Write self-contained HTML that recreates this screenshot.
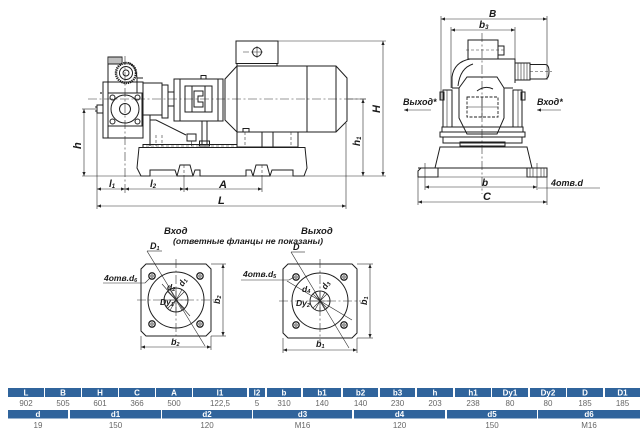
<!DOCTYPE html>
<html><head><meta charset="utf-8"><style>
html,body{margin:0;padding:0;background:#fff;width:640px;height:434px;overflow:hidden}
svg{display:block}
.o{fill:none;stroke:#1e1e1e;stroke-width:1}
.t{fill:none;stroke:#2a2a2a;stroke-width:0.6}
.c{fill:none;stroke:#333;stroke-width:0.6;stroke-dasharray:9 2.5 2 2.5}
.d{fill:none;stroke:#333;stroke-width:0.6;stroke-dasharray:3 2}
.lb{font-family:"Liberation Sans",sans-serif;font-style:italic;font-weight:bold;fill:#1a1a1a}
.th{font-family:"Liberation Sans",sans-serif;font-weight:bold;font-size:8px;fill:#fff;text-anchor:middle}
.tv{font-family:"Liberation Sans",sans-serif;font-size:8px;fill:#666;text-anchor:middle}
</style></head><body>
<svg width="640" height="434" viewBox="0 0 640 434" xmlns="http://www.w3.org/2000/svg">
<defs>
<marker id="a" viewBox="0 0 10 10" refX="10" refY="5" markerWidth="6" markerHeight="4" orient="auto-start-reverse" markerUnits="userSpaceOnUse"><path d="M0,1 L10,5 L0,9 z" fill="#222"/></marker>
</defs>

<!-- ================= MAIN VIEW ================= -->
<line class="c" x1="88" y1="99" x2="366" y2="99"/>
<line class="c" x1="125" y1="56" x2="125" y2="194"/>

<!-- pump top gear box -->
<rect class="o" x="108" y="57" width="14" height="7"/>
<path class="t" d="M110,57V64M112,57V64M114,57V64M116,57V64M118,57V64M120,57V64"/>
<circle cx="126" cy="73" r="10" fill="none" stroke="#1e1e1e" stroke-width="2.4" stroke-dasharray="1.3 0.8"/>
<circle class="o" cx="126" cy="73" r="6.5"/>
<circle class="o" cx="126" cy="73" r="3"/>
<path class="o" d="M108,64V82M137,93V78Q136,65 128,62.5M137,78H143"/>
<!-- pump body -->
<rect class="o" x="103" y="82" width="40" height="56"/>
<line class="o" x1="108" y1="82" x2="108" y2="138"/>
<rect class="o" x="108" y="93" width="34" height="33"/>
<circle class="o" cx="112.5" cy="97.5" r="2.5"/><circle class="o" cx="137.5" cy="97.5" r="2.5"/>
<circle class="o" cx="112.5" cy="121.5" r="2.5"/><circle class="o" cx="137.5" cy="121.5" r="2.5"/>
<circle class="o" cx="125" cy="109" r="14"/>
<circle class="o" cx="125" cy="109" r="5.5"/>
<rect class="o" x="97" y="105" width="6" height="8"/>
<line class="o" x1="95" y1="107" x2="97" y2="107"/><line class="o" x1="95" y1="111" x2="97" y2="111"/>
<circle cx="101" cy="93" r="0.9" fill="#222"/>
<!-- bearing housing -->
<rect class="o" x="143" y="83" width="19" height="32"/>
<rect class="o" x="162" y="85" width="6" height="33"/>
<rect class="o" x="168" y="92" width="6" height="14"/>
<path class="o" d="M150,115V146M150,120H156L186,135"/>
<line class="d" x1="156" y1="135" x2="156" y2="146"/>
<line class="d" x1="162" y1="135" x2="162" y2="146"/>
<rect class="o" x="187" y="134" width="9" height="7"/>
<line class="t" x1="191.5" y1="141" x2="191.5" y2="146"/>
<!-- coupling housing -->
<rect class="o" x="174" y="79" width="49" height="42"/>
<line class="o" x1="180" y1="79" x2="180" y2="121"/>
<line class="o" x1="218" y1="79" x2="218" y2="121"/>
<rect class="o" x="185" y="86" width="27" height="26"/>
<line class="o" x1="192" y1="86" x2="192" y2="112"/>
<line class="o" x1="205" y1="86" x2="205" y2="112"/>
<path class="o" d="M194,91H203V96H198V102H203V107H194Z"/>
<rect class="o" x="201" y="75.5" width="5" height="3.5"/>
<line class="o" x1="202" y1="121" x2="202" y2="145"/>
<line class="o" x1="207" y1="121" x2="207" y2="145"/>
<rect class="o" x="199.5" y="141" width="10" height="5" fill="#555"/>
<!-- motor -->
<path class="o" d="M237,66L225,79V120L237,132"/>
<rect class="o" x="237" y="66" width="70" height="66"/>
<path class="o" d="M307,66H336L347,78V121L336,132H307"/>
<line class="o" x1="336" y1="66" x2="336" y2="132"/>
<rect class="o" x="236" y="41" width="42" height="22.5"/>
<line class="o" x1="237" y1="63.5" x2="237" y2="66"/><line class="o" x1="277" y1="63.5" x2="277" y2="66"/>
<circle class="o" cx="257" cy="52" r="4.5"/>
<path class="t" d="M251,52H263M257,46V58M243,52H249"/>
<rect class="o" x="243" y="128.5" width="6" height="3.5"/>
<!-- motor pedestal -->
<rect class="o" x="237" y="132" width="61" height="15"/>
<line class="o" x1="262" y1="132" x2="262" y2="147"/>
<line class="o" x1="273" y1="132" x2="273" y2="147"/>
<line class="d" x1="245" y1="132" x2="245" y2="147"/>
<line class="d" x1="291" y1="132" x2="291" y2="147"/>
<!-- plate -->
<rect class="o" x="143" y="144.5" width="94" height="3"/>
<line class="d" x1="146" y1="146" x2="236" y2="146"/>
<!-- base -->
<path class="o" d="M139,147.5H305L307,168L304,176H293V170H272L270,176H253L251,170H246V176H200V170H195L193,176H177L175,170H150V176H141L137,168Z"/>
<path class="o" d="M177,176L180,165H190L193,176M253,176L256,165H267L270,176"/>
<line class="d" x1="184" y1="165" x2="184" y2="176"/>
<line class="d" x1="262" y1="165" x2="262" y2="176"/>

<!-- dimensions main -->
<line class="t" x1="82" y1="176" x2="386" y2="176"/>
<line class="t" x1="82" y1="109" x2="96" y2="109"/>
<line class="t" x1="84" y1="109" x2="84" y2="176" marker-start="url(#a)" marker-end="url(#a)"/>
<line class="t" x1="348" y1="99" x2="366" y2="99"/>
<line class="t" x1="363" y1="99" x2="363" y2="176" marker-start="url(#a)" marker-end="url(#a)"/>
<line class="t" x1="278" y1="41" x2="386" y2="41"/>
<line class="t" x1="383" y1="41" x2="383" y2="176" marker-start="url(#a)" marker-end="url(#a)"/>
<line class="t" x1="97" y1="113" x2="97" y2="209"/>
<line class="t" x1="346" y1="123" x2="346" y2="209"/>
<line class="t" x1="184" y1="176" x2="184" y2="192"/>
<line class="t" x1="262" y1="176" x2="262" y2="192"/>
<line class="t" x1="97" y1="189" x2="125" y2="189" marker-start="url(#a)" marker-end="url(#a)"/>
<line class="t" x1="125" y1="189" x2="184" y2="189" marker-start="url(#a)" marker-end="url(#a)"/>
<line class="t" x1="184" y1="189" x2="262" y2="189" marker-start="url(#a)" marker-end="url(#a)"/>
<line class="t" x1="97" y1="206" x2="346" y2="206" marker-start="url(#a)" marker-end="url(#a)"/>
<text class="lb" x="109" y="187" font-size="10">l<tspan font-size="6" dy="1">1</tspan></text>
<text class="lb" x="150" y="187" font-size="10">l<tspan font-size="6" dy="1">2</tspan></text>
<text class="lb" x="219" y="188" font-size="11">A</text>
<text class="lb" x="218" y="204" font-size="11">L</text>
<text class="lb" font-size="11" transform="translate(81,149) rotate(-90)">h</text>
<text class="lb" font-size="10" transform="translate(360,146) rotate(-90)">h<tspan font-size="6" dy="1">1</tspan></text>
<text class="lb" font-size="11" transform="translate(380,113) rotate(-90)">H</text>

<!-- ================= SIDE VIEW ================= -->
<line class="c" x1="482" y1="33" x2="482" y2="194"/>
<line class="t" x1="441" y1="16" x2="441" y2="100"/>
<line class="t" x1="547" y1="16" x2="547" y2="80"/>
<line class="t" x1="441" y1="19" x2="547" y2="19" marker-start="url(#a)" marker-end="url(#a)"/>
<line class="t" x1="451" y1="27" x2="451" y2="88"/>
<line class="t" x1="515" y1="27" x2="515" y2="62"/>
<line class="t" x1="451" y1="30" x2="515" y2="30" marker-start="url(#a)" marker-end="url(#a)"/>
<text class="lb" x="489" y="17" font-size="10">B</text>
<text class="lb" x="479" y="28" font-size="10">b<tspan font-size="6" dy="1">3</tspan></text>

<rect class="o" x="468" y="40" width="30" height="19"/>
<rect class="o" x="498" y="46" width="6" height="9"/>
<line class="d" x1="466" y1="50" x2="506" y2="50"/>
<path class="o" d="M452,88V77Q454,62 470,59H515V83"/>
<path class="o" d="M458,86Q460,68 473,64"/>
<rect class="o" x="515" y="63" width="15" height="17"/>
<path class="t" d="M518,63V80M521,63V80M524,63V80M527,63V80"/>
<path class="o" d="M530,64.5H545Q549,64.5 549,71.5Q549,79 545,79H530"/>
<line class="d" x1="530" y1="71.5" x2="552" y2="71.5"/>
<path class="o" d="M467,77H497L504,88V118L497,134H467L459,118V88Z"/>
<rect x="467" y="97" width="31" height="20" fill="none" stroke="#222" stroke-width="0.9" stroke-dasharray="3 1.5"/>
<path class="t" d="M482,97V117M467,107H498"/>
<path class="o" d="M477,91Q485,85 493,89"/>
<rect class="o" x="443" y="90" width="9" height="37"/>
<rect class="o" x="513" y="90" width="9" height="37"/>
<line class="t" x1="447" y1="90" x2="447" y2="127"/>
<line class="t" x1="518" y1="90" x2="518" y2="127"/>
<rect class="o" x="440" y="92" width="4" height="8"/>
<rect class="o" x="521" y="92" width="4" height="8"/>
<path class="o" d="M452,88H459M504,88H513"/>
<rect class="o" x="442" y="127" width="81" height="5"/>
<rect class="o" x="440" y="132" width="85" height="5"/>
<rect class="o" x="443" y="137" width="79" height="6"/>
<rect class="o" x="460" y="142" width="45" height="4"/>
<path class="o" d="M440,147H527L532,168H435Z"/>
<line class="o" x1="418" y1="168" x2="547" y2="168"/>
<path class="o" d="M418,177V171L421,168H438V177Z"/>
<path class="o" d="M527,168H547V177H527Z"/>
<path class="t" d="M530,168V177M533,168V177M541,168V177M544,168V177"/>
<line class="t" x1="418" y1="177" x2="547" y2="177"/>
<line class="t" x1="425" y1="163" x2="425" y2="190"/>
<line class="t" x1="537" y1="163" x2="537" y2="190"/>
<line class="t" x1="425" y1="187" x2="537" y2="187" marker-start="url(#a)" marker-end="url(#a)"/>
<line class="t" x1="418" y1="177" x2="418" y2="205"/>
<line class="t" x1="547" y1="177" x2="547" y2="205"/>
<line class="t" x1="418" y1="202" x2="547" y2="202" marker-start="url(#a)" marker-end="url(#a)"/>
<text class="lb" x="482" y="186" font-size="10">b</text>
<text class="lb" x="483" y="200" font-size="11">C</text>
<line class="t" x1="538" y1="188" x2="600" y2="188"/>
<text class="lb" x="551" y="186" font-size="9">4отв.d</text>
<text class="lb" x="403" y="105" font-size="9">Выход*</text>
<line class="t" x1="431" y1="110" x2="404" y2="110" marker-end="url(#a)"/>
<text class="lb" x="537" y="105" font-size="9">Вход*</text>
<line class="t" x1="561" y1="110" x2="537" y2="110" marker-end="url(#a)"/>

<!-- ================= FLANGES ================= -->
<text class="lb" x="164" y="234" font-size="9.5">Вход</text>
<text class="lb" x="301" y="234" font-size="9.5">Выход</text>
<text class="lb" x="173" y="244" font-size="8.5" textLength="150" lengthAdjust="spacingAndGlyphs">(ответные фланцы не показаны)</text>

<!-- flange 1 -->
<path class="o" d="M146,264H206L211,269V331L206,336H146L141,331V269Z"/>
<circle class="o" cx="176" cy="300" r="28"/>
<circle class="o" cx="176" cy="300" r="12"/>
<path class="t" d="M164,300H188M176,288V312M167.5,291.5L184.5,308.5M184.5,291.5L167.5,308.5M170,289.6L182,310.4M182,289.6L170,310.4"/>
<line class="c" x1="137" y1="300" x2="215" y2="300"/>
<line class="c" x1="176" y1="259" x2="176" y2="340"/>
<circle cx="152" cy="276" r="3.2" fill="none" stroke="#222" stroke-width="1.3"/><circle cx="152" cy="276" r="1.2" fill="none" stroke="#222" stroke-width="0.7"/>
<circle cx="200" cy="276" r="3.2" fill="none" stroke="#222" stroke-width="1.3"/><circle cx="200" cy="276" r="1.2" fill="none" stroke="#222" stroke-width="0.7"/>
<circle cx="152" cy="324" r="3.2" fill="none" stroke="#222" stroke-width="1.3"/><circle cx="152" cy="324" r="1.2" fill="none" stroke="#222" stroke-width="0.7"/>
<circle cx="200" cy="324" r="3.2" fill="none" stroke="#222" stroke-width="1.3"/><circle cx="200" cy="324" r="1.2" fill="none" stroke="#222" stroke-width="0.7"/>
<line class="t" x1="147" y1="251" x2="205" y2="346"/>
<line class="t" x1="162" y1="284" x2="190" y2="316"/>
<line class="t" x1="147" y1="251" x2="162" y2="251"/>
<line class="t" x1="103" y1="283" x2="145" y2="283"/>
<line class="t" x1="145" y1="283" x2="150" y2="278"/>
<text class="lb" x="150" y="249" font-size="9">D<tspan font-size="5.5" dy="1">1</tspan></text>
<text class="lb" x="104" y="281" font-size="8.5">4отв.d<tspan font-size="5.5" dy="1">6</tspan></text>
<text class="lb" x="167" y="290" font-size="8.5">d<tspan font-size="5.5" dy="1">2</tspan></text>
<text class="lb" font-size="8.5" transform="translate(183,287) rotate(-60)">d<tspan font-size="5.5" dy="1">1</tspan></text>
<text class="lb" x="160" y="305" font-size="8.5">Dy<tspan font-size="5.5" dy="1">1</tspan></text>
<line class="t" x1="211" y1="264" x2="226" y2="264"/>
<line class="t" x1="211" y1="336" x2="226" y2="336"/>
<line class="t" x1="223" y1="264" x2="223" y2="336" marker-start="url(#a)" marker-end="url(#a)"/>
<line class="t" x1="141" y1="336" x2="141" y2="350"/>
<line class="t" x1="211" y1="336" x2="211" y2="350"/>
<line class="t" x1="141" y1="347" x2="211" y2="347" marker-start="url(#a)" marker-end="url(#a)"/>
<text class="lb" x="171" y="345" font-size="9">b<tspan font-size="5.5" dy="1">2</tspan></text>
<text class="lb" font-size="9" transform="translate(220,304) rotate(-90)">b<tspan font-size="5.5" dy="1">2</tspan></text>

<!-- flange 2 -->
<path class="o" d="M288,264H352L357,269V333L352,338H288L283,333V269Z"/>
<circle class="o" cx="320" cy="301" r="28"/>
<circle class="o" cx="320" cy="301" r="10"/>
<path class="t" d="M310,301H330M320,291V311M313,294L327,308M327,294L313,308M315,292.3L325,309.7M325,292.3L315,309.7"/>
<line class="c" x1="279" y1="301" x2="361" y2="301"/>
<line class="c" x1="320" y1="259" x2="320" y2="342"/>
<circle cx="296" cy="277" r="3.2" fill="none" stroke="#222" stroke-width="1.3"/><circle cx="296" cy="277" r="1.2" fill="none" stroke="#222" stroke-width="0.7"/>
<circle cx="344" cy="277" r="3.2" fill="none" stroke="#222" stroke-width="1.3"/><circle cx="344" cy="277" r="1.2" fill="none" stroke="#222" stroke-width="0.7"/>
<circle cx="296" cy="325" r="3.2" fill="none" stroke="#222" stroke-width="1.3"/><circle cx="296" cy="325" r="1.2" fill="none" stroke="#222" stroke-width="0.7"/>
<circle cx="344" cy="325" r="3.2" fill="none" stroke="#222" stroke-width="1.3"/><circle cx="344" cy="325" r="1.2" fill="none" stroke="#222" stroke-width="0.7"/>
<line class="t" x1="291" y1="252" x2="349" y2="348"/>
<line class="t" x1="287" y1="281" x2="352" y2="320"/>
<line class="t" x1="291" y1="252" x2="305" y2="252"/>
<line class="t" x1="241" y1="280" x2="289" y2="280"/>
<line class="t" x1="289" y1="280" x2="294" y2="277"/>
<text class="lb" x="293" y="250" font-size="9">D</text>
<text class="lb" x="243" y="277" font-size="8.5">4отв.d<tspan font-size="5.5" dy="1">5</tspan></text>
<text class="lb" x="302" y="292" font-size="8.5">d<tspan font-size="5.5" dy="1">4</tspan></text>
<text class="lb" font-size="8.5" transform="translate(326,290) rotate(-60)">d<tspan font-size="5.5" dy="1">3</tspan></text>
<text class="lb" x="296" y="306" font-size="8.5">Dy<tspan font-size="5.5" dy="1">2</tspan></text>
<line class="t" x1="357" y1="264" x2="373" y2="264"/>
<line class="t" x1="357" y1="338" x2="373" y2="338"/>
<line class="t" x1="370" y1="264" x2="370" y2="338" marker-start="url(#a)" marker-end="url(#a)"/>
<line class="t" x1="283" y1="338" x2="283" y2="353"/>
<line class="t" x1="357" y1="338" x2="357" y2="353"/>
<line class="t" x1="283" y1="350" x2="357" y2="350" marker-start="url(#a)" marker-end="url(#a)"/>
<text class="lb" x="316" y="347" font-size="9">b<tspan font-size="5.5" dy="1">1</tspan></text>
<text class="lb" font-size="9" transform="translate(367,305) rotate(-90)">b<tspan font-size="5.5" dy="1">1</tspan></text>

<!-- ================= TABLE ================= -->
<g fill="#30649c">
<rect x="8" y="388" width="36" height="9"/>
<rect x="45" y="388" width="36" height="9"/>
<rect x="82" y="388" width="36" height="9"/>
<rect x="119" y="388" width="36" height="9"/>
<rect x="156" y="388" width="36" height="9"/>
<rect x="193" y="388" width="54" height="9"/>
<rect x="249" y="388" width="16" height="9"/>
<rect x="267" y="388" width="34" height="9"/>
<rect x="303" y="388" width="38" height="9"/>
<rect x="343" y="388" width="35" height="9"/>
<rect x="380" y="388" width="35" height="9"/>
<rect x="417" y="388" width="36" height="9"/>
<rect x="455" y="388" width="36" height="9"/>
<rect x="492" y="388" width="36" height="9"/>
<rect x="530" y="388" width="36" height="9"/>
<rect x="567" y="388" width="36" height="9"/>
<rect x="605" y="388" width="35" height="9"/>
<rect x="8" y="410" width="60" height="8.5"/>
<rect x="70" y="410" width="91" height="8.5"/>
<rect x="162" y="410" width="90" height="8.5"/>
<rect x="253" y="410" width="99" height="8.5"/>
<rect x="354" y="410" width="91" height="8.5"/>
<rect x="447" y="410" width="90" height="8.5"/>
<rect x="538" y="410" width="102" height="8.5"/>
</g>
<g class="th">
<text x="26" y="395.5">L</text>
<text x="63" y="395.5">B</text>
<text x="100" y="395.5">H</text>
<text x="137" y="395.5">C</text>
<text x="174" y="395.5">A</text>
<text x="220" y="395.5">l1</text>
<text x="257" y="395.5">l2</text>
<text x="284" y="395.5">b</text>
<text x="322" y="395.5">b1</text>
<text x="360.5" y="395.5">b2</text>
<text x="397.5" y="395.5">b3</text>
<text x="435" y="395.5">h</text>
<text x="473" y="395.5">h1</text>
<text x="510" y="395.5">Dy1</text>
<text x="548" y="395.5">Dy2</text>
<text x="585" y="395.5">D</text>
<text x="622.5" y="395.5">D1</text>
<text x="38" y="417">d</text>
<text x="115.5" y="417">d1</text>
<text x="207" y="417">d2</text>
<text x="302.5" y="417">d3</text>
<text x="399.5" y="417">d4</text>
<text x="492" y="417">d5</text>
<text x="589" y="417">d6</text>
</g>
<g class="tv">
<text x="26" y="406">902</text>
<text x="63" y="406">505</text>
<text x="100" y="406">601</text>
<text x="137" y="406">366</text>
<text x="174" y="406">500</text>
<text x="220" y="406">122,5</text>
<text x="257" y="406">5</text>
<text x="284" y="406">310</text>
<text x="322" y="406">140</text>
<text x="360.5" y="406">140</text>
<text x="397.5" y="406">230</text>
<text x="435" y="406">203</text>
<text x="473" y="406">238</text>
<text x="510" y="406">80</text>
<text x="548" y="406">80</text>
<text x="585" y="406">185</text>
<text x="622.5" y="406">185</text>
<text x="38" y="428">19</text>
<text x="115.5" y="428">150</text>
<text x="207" y="428">120</text>
<text x="302.5" y="428">M16</text>
<text x="399.5" y="428">120</text>
<text x="492" y="428">150</text>
<text x="589" y="428">M16</text>
</g>
</svg>
</body></html>
